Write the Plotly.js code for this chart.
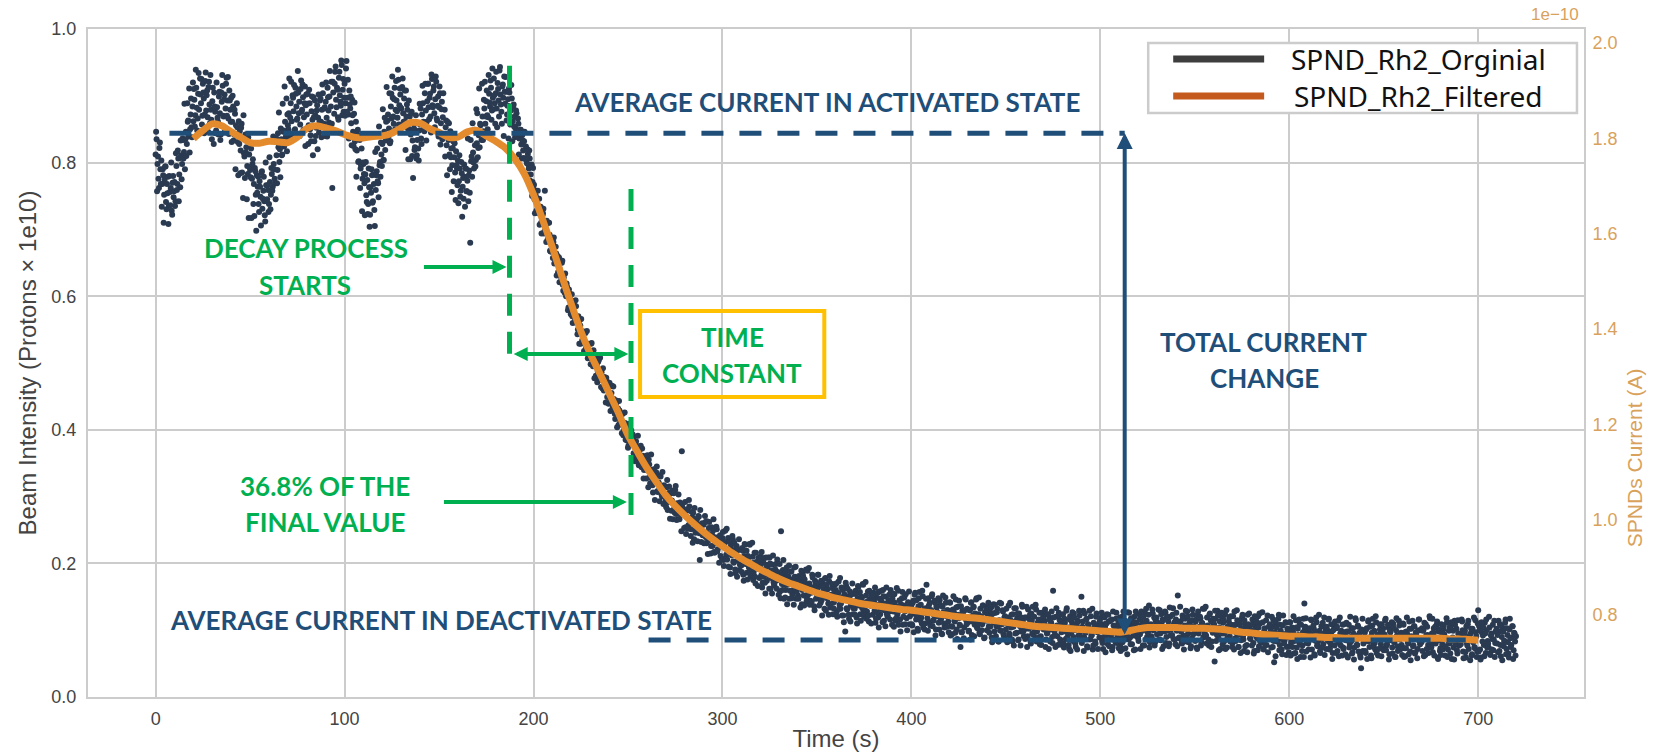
<!DOCTYPE html>
<html><head><meta charset="utf-8">
<script src="https://cdn.plot.ly/plotly-3.0.1.min.js"></script>
<style>html,body{margin:0;padding:0;background:#fff}#chart{width:1660px;height:754px}</style>
</head><body><div id="chart"></div>
<script>
// ---- data ----
// measured current, samples on the half-second grid (0, 0.5, 1.0 ... 720 s)
const sampleStart = 0;      // s
const sampleStep = 0.5;     // s
const originalCurrent = [
.812,.835,.798,.776,.822,.790,.803,.768,.781,.752,.794,.741,.768,.779,.735,.756,.762,.728,.770,.748,
.771,.742,.795,.768,.806,.782,.763,.811,.798,.834,.816,.790,.846,.828,.861,.839,.815,.872,.853,.884,
.862,.894,.871,.912,.848,.903,.879,.926,.889,.857,.918,.896,.872,.935,.901,.868,.913,.887,.931,.864,
.892,.858,.905,.876,.848,.883,.861,.899,.874,.842,.891,.915,.869,.902,.881,.927,.893,.866,.908,.879,
.897,.861,.884,.842,.873,.856,.889,.831,.862,.847,.818,.858,.836,.871,.809,.842,.823,.795,.838,.812,
.789,.821,.776,.805,.768,.792,.752,.781,.764,.738,.772,.749,.785,.731,.758,.742,.712,.766,.745,.759,
.738,.771,.752,.783,.764,.798,.776,.745,.811,.789,.823,.801,.778,.835,.812,.846,.824,.861,.839,.817,
.856,.874,.838,.889,.862,.901,.877,.848,.912,.884,.866,.905,.891,.857,.923,.879,.898,.868,.914,.886,
.872,.903,.856,.889,.841,.877,.864,.898,.832,.871,.852,.886,.867,.845,.893,.861,.879,.904,.858,.883,
.891,.867,.912,.878,.899,.856,.921,.762,.905,.873,.936,.894,.912,.868,.927,.901,.885,.946,.909,.876,
.918,.889,.952,.897,.872,.908,.881,.859,.894,.846,.873,.832,.861,.818,.849,.802,.834,.791,.821,.776,
.798,.769,.782,.751,.774,.738,.763,.722,.755,.781,.742,.768,.705,.759,.787,.772,.748,.796,.779,.812,
.828,.804,.846,.819,.861,.838,.872,.851,.829,.884,.866,.897,.858,.912,.879,.893,.867,.924,.886,.902,
.881,.913,.874,.896,.862,.908,.887,.851,.893,.869,.842,.876,.833,.858,.819,.847,.806,.834,.821,.848,
.857,.836,.872,.889,.851,.904,.878,.861,.918,.883,.897,.869,.932,.886,.908,.874,.895,.921,.863,.899,
.883,.904,.859,.891,.868,.842,.879,.853,.826,.861,.834,.812,.847,.821,.796,.832,.808,.785,.817,.791,
.803,.772,.791,.758,.784,.764,.746,.779,.791,.757,.773,.742,.788,.680,.802,.779,.815,.791,.826,.804,
.829,.808,.841,.823,.856,.834,.869,.847,.881,.858,.892,.871,.868,.903,.884,.912,.878,.897,.926,.889,
.904,.881,.919,.893,.938,.902,.876,.914,.897,.929,.888,.906,.872,.895,.911,.884,.878,.896,.862,.887,
.869,.851,.874,.842,.858,.836,.849,.827,.841,.818,.832,.806,.824,.799,.813,.791,.806,.782,.797,.771,
.761,.745,.758,.728,.738,.726,.746,.723,.710,.722,.724,.694,.758,.699,.713,.685,.689,.692,.667,.680,
.666,.681,.649,.664,.664,.650,.636,.658,.640,.629,.650,.617,.628,.605,.617,.619,.601,.583,.604,.594,
.593,.570,.581,.587,.564,.585,.561,.550,.562,.565,.529,.547,.535,.547,.533,.545,.515,.528,.529,.512,
.508,.529,.507,.495,.507,.510,.481,.497,.488,.504,.477,.482,.486,.462,.476,.479,.464,.478,.449,.460,
.470,.453,.444,.466,.434,.446,.424,.437,.441,.424,.407,.429,.420,.408,.424,.392,.409,.410,.396,.384,
.373,.391,.381,.393,.381,.393,.365,.378,.380,.364,.372,.351,.363,.371,.349,.372,.350,.340,.354,.358,
.347,.339,.355,.329,.335,.340,.317,.331,.335,.321,.336,.308,.320,.310,.332,.311,.300,.313,.317,.289,
.294,.314,.280,.302,.306,.292,.279,.309,.290,.282,.310,.274,.290,.266,.284,.291,.273,.368,.283,.275,
.278,.254,.270,.281,.257,.285,.260,.251,.269,.276,.236,.260,.250,.266,.253,.270,.205,.256,.259,.242,
.258,.242,.262,.230,.245,.234,.262,.238,.226,.243,.249,.217,.239,.231,.251,.221,.230,.237,.211,.231,
.238,.205,.229,.249,.213,.206,.238,.222,.194,.226,.212,.236,.201,.220,.185,.226,.204,.220,.190,.208,
.197,.223,.183,.211,.228,.200,.186,.211,.194,.228,.180,.200,.210,.186,.216,.170,.202,.192,.208,.178,
.210,.182,.164,.202,.190,.171,.209,.174,.195,.182,.209,.162,.189,.198,.172,.167,.191,.174,.206,.176,
.178,.158,.248,.169,.190,.147,.181,.160,.194,.168,.180,.147,.173,.188,.154,.160,.194,.173,.147,.179,
.152,.181,.164,.173,.139,.184,.152,.176,.164,.143,.189,.154,.170,.144,.156,.183,.164,.136,.174,.147,
.154,.183,.150,.166,.141,.145,.170,.160,.132,.178,.149,.161,.140,.173,.134,.153,.163,.124,.142,.168,
.160,.128,.153,.173,.138,.132,.164,.149,.122,.154,.098,.166,.131,.151,.117,.158,.137,.154,.124,.143,
.132,.159,.119,.147,.165,.138,.124,.150,.133,.168,.120,.141,.152,.128,.158,.113,.146,.137,.152,.123,
.156,.129,.111,.149,.138,.119,.158,.124,.144,.132,.160,.114,.140,.150,.125,.120,.145,.128,.160,.131,
.147,.128,.154,.114,.135,.123,.159,.130,.116,.139,.148,.108,.137,.128,.154,.118,.130,.141,.109,.135,
.137,.107,.144,.125,.156,.116,.131,.099,.148,.122,.138,.110,.151,.126,.101,.133,.168,.118,.148,.112,
.107,.130,.154,.114,.122,.141,.101,.134,.126,.111,.145,.117,.095,.135,.127,.104,.149,.121,.130,.113,
.124,.141,.106,.094,.131,.127,.113,.146,.101,.135,.118,.108,.075,.097,.129,.121,.104,.148,.115,.132,
.112,.099,.130,.141,.093,.122,.135,.108,.116,.148,.103,.124,.096,.132,.119,.109,.137,.088,.127,.114,
.100,.136,.106,.128,.121,.089,.114,.139,.098,.126,.106,.132,.083,.115,.100,.140,.109,.128,.091,.121,
.101,.118,.109,.137,.092,.115,.123,.083,.105,.133,.095,.110,.118,.085,.125,.106,.098,.138,.114,.091,
.119,.102,.135,.091,.108,.116,.084,.125,.095,.105,.120,.086,.131,.098,.112,.116,.079,.091,.126,.109,
.101,.114,.075,.124,.096,.106,.119,.083,.111,.090,.159,.101,.093,.120,.107,.078,.126,.115,.084,.097,
.110,.080,.117,.098,.129,.089,.104,.072,.121,.095,.112,.084,.125,.100,.075,.107,.114,.092,.122,.086,
.150,.105,.129,.089,.097,.116,.076,.109,.101,.086,.121,.093,.071,.111,.103,.080,.125,.097,.106,.089,
.102,.119,.084,.072,.109,.105,.091,.124,.079,.113,.096,.086,.116,.075,.107,.099,.082,.126,.093,.110,
.091,.078,.109,.120,.072,.101,.114,.087,.095,.127,.086,.107,.079,.115,.102,.092,.120,.071,.110,.097,
.088,.124,.094,.116,.109,.077,.102,.127,.086,.114,.097,.123,.074,.106,.091,.131,.100,.119,.082,.112,
.094,.111,.102,.130,.085,.108,.116,.076,.098,.126,.090,.105,.113,.080,.120,.101,.093,.133,.109,.086,
.116,.099,.152,.088,.105,.113,.081,.122,.092,.102,.117,.083,.128,.095,.109,.113,.076,.088,.123,.106,
.100,.113,.074,.123,.095,.105,.118,.082,.110,.089,.132,.100,.092,.119,.106,.077,.125,.114,.083,.096,
.110,.053,.117,.098,.129,.089,.104,.072,.121,.095,.111,.083,.124,.099,.074,.106,.113,.091,.121,.085,
.081,.104,.128,.088,.096,.115,.075,.108,.100,.085,.119,.091,.069,.109,.101,.078,.123,.095,.104,.087,
.099,.116,.081,.069,.106,.102,.088,.121,.076,.110,.092,.082,.112,.071,.103,.095,.078,.122,.089,.106,
.087,.074,.105,.116,.052,.097,.110,.083,.091,.123,.078,.099,.071,.107,.094,.084,.112,.063,.102,.089,
.076,.112,.082,.104,.097,.065,.090,.115,.074,.102,.083,.109,.060,.092,.077,.117,.140,.105,.068,.098,
.080,.097,.088,.116,.071,.094,.102,.062,.084,.112,.076,.091,.099,.066,.106,.087,.079,.119,.095,.072,
.101,.084,.117,.073,.090,.098,.066,.107,.077,.087,.103,.069,.114,.081,.095,.099,.062,.074,.109,.092,
.085,.098,.059,.108,.080,.090,.103,.067,.095,.074,.118,.086,.078,.105,.092,.063,.043,.100,.069,.082,
.096,.066,.103,.084,.115,.075,.090,.058,.107,.081,.099,.071,.112,.087,.062,.094,.101,.079,.109,.073,
.070,.093,.117,.077,.085,.104,.064,.097,.089,.074,.110,.082,.060,.100,.092,.069,.114,.086,.095,.078,
.091,.108,.073,.061,.098,.094,.080,.113,.068,.102,.086,.076,.106,.065,.097,.089,.072,.116,.083,.100,
.082,.069,.100,.111,.063,.092,.105,.078,.086,.118,.074,.095,.067,.103,.090,.080,.108,.059,.098,.085,
.073,.109,.079,.101,.094,.062,.087,.112,.071,.099,.080,.106,.057,.089,.074,.114,.083,.102,.065,.095,
.077,.094,.085,.113,.068,.091,.099,.059,.081,.109,.072,.087,.095,.062,.102,.083,.075,.115,.091,.068,
.130,.106,.071,.059,.096,.092,.078,.111,.066,.100,.084,.074,.104,.063,.095,.087,.070,.114,.081,.098,
.080,.067,.098,.109,.061,.090,.103,.076,.084,.116,.072,.093,.065,.101,.088,.078,.106,.057,.096,.083,
.091
];

// measured current, samples between the grid points (0.25, 0.75 ... 719.75 s)
const offsetStart = 0.25;   // s
const originalCurrentOffset = [
.846,.757,.809,.762,.830,.768,.734,.790,.710,.774,.794,.730,.754,.708,.780,.736,.800,.722,.780,.757,
.735,.814,.759,.818,.742,.807,.833,.775,.836,.806,.888,.835,.810,.889,.863,.911,.850,.896,.838,.920,
.910,.854,.939,.882,.866,.934,.846,.902,.925,.870,.905,.844,.922,.878,.908,.846,.921,.859,.879,.835,
.912,.828,.884,.844,.920,.867,.842,.906,.834,.905,.931,.870,.895,.848,.918,.870,.928,.843,.893,.861,
.831,.900,.833,.879,.790,.841,.853,.781,.828,.784,.852,.785,.747,.814,.777,.815,.745,.783,.717,.793,
.778,.717,.798,.738,.720,.787,.698,.755,.779,.726,.764,.706,.787,.746,.779,.721,.800,.742,.766,.726,
.808,.730,.792,.758,.839,.790,.769,.837,.769,.844,.875,.820,.851,.811,.888,.848,.914,.837,.896,.872,
.850,.926,.867,.921,.839,.897,.916,.850,.903,.864,.937,.874,.840,.910,.876,.917,.849,.889,.825,.902,
.888,.828,.909,.850,.832,.899,.811,.868,.893,.840,.878,.820,.902,.862,.896,.838,.917,.858,.881,.840,
.920,.839,.898,.860,.937,.884,.858,.921,.848,.918,.944,.883,.909,.864,.936,.891,.953,.871,.925,.897,
.870,.941,.876,.924,.836,.887,.899,.826,.871,.825,.890,.820,.779,.842,.801,.836,.762,.796,.727,.800,
.783,.721,.801,.741,.723,.791,.704,.763,.790,.740,.782,.729,.816,.781,.821,.769,.854,.801,.830,.795,
.880,.804,.867,.833,.913,.863,.839,.904,.832,.903,.929,.869,.895,.850,.922,.877,.939,.857,.911,.882,
.855,.926,.861,.908,.819,.869,.879,.805,.850,.805,.874,.810,.777,.851,.823,.871,.811,.859,.803,.888,
.881,.828,.915,.861,.847,.918,.833,.892,.918,.865,.903,.845,.925,.883,.914,.853,.929,.866,.885,.839,
.914,.827,.880,.835,.904,.843,.809,.863,.781,.842,.859,.790,.808,.756,.822,.772,.829,.744,.796,.766,
.739,.811,.749,.801,.719,.777,.797,.734,.791,.757,.836,.781,.755,.834,.809,.859,.800,.849,.794,.880,
.874,.822,.911,.858,.846,.918,.834,.894,.921,.869,.908,.850,.931,.890,.923,.864,.941,.880,.901,.858,
.936,.853,.910,.869,.943,.887,.858,.917,.840,.906,.928,.863,.885,.836,.905,.857,.916,.832,.884,.854,
.838,.878,.839,.866,.812,.842,.849,.806,.833,.807,.846,.805,.782,.820,.797,.818,.773,.794,.750,.792,
.767,.724,.750,.725,.758,.726,.707,.734,.694,.721,.731,.697,.706,.681,.709,.684,.710,.668,.688,.673,
.657,.688,.658,.674,.631,.660,.647,.621,.650,.623,.653,.608,.617,.634,.600,.614,.579,.610,.599,.573,
.603,.560,.586,.561,.594,.562,.543,.570,.529,.556,.566,.533,.542,.518,.546,.522,.548,.507,.528,.513,
.498,.530,.501,.519,.477,.507,.496,.471,.502,.477,.508,.464,.474,.492,.459,.475,.441,.473,.463,.439,
.470,.428,.455,.431,.465,.434,.416,.444,.404,.432,.443,.410,.419,.395,.424,.399,.426,.385,.405,.391,
.376,.409,.380,.399,.357,.388,.377,.353,.383,.359,.391,.347,.358,.376,.344,.361,.327,.360,.350,.327,
.362,.314,.348,.320,.363,.327,.306,.341,.295,.330,.345,.307,.321,.293,.330,.303,.337,.289,.316,.301,
.284,.325,.292,.315,.267,.305,.294,.266,.305,.276,.316,.265,.279,.303,.266,.287,.248,.289,.279,.253,
.292,.244,.279,.252,.295,.260,.241,.277,.231,.267,.283,.246,.260,.233,.271,.245,.280,.232,.260,.246,
.230,.271,.239,.263,.214,.253,.242,.215,.254,.226,.266,.216,.230,.255,.218,.239,.201,.242,.233,.207,
.247,.196,.232,.207,.252,.214,.195,.232,.184,.219,.241,.203,.231,.191,.218,.180,.221,.236,.198,.204,
.187,.219,.174,.229,.199,.219,.176,.209,.229,.186,.192,.231,.175,.201,.180,.216,.193,.166,.204,.207,
.197,.217,.171,.180,.208,.155,.198,.183,.209,.162,.200,.178,.155,.212,.169,.183,.199,.162,.187,.153,
.199,.148,.184,.160,.205,.168,.149,.187,.139,.174,.197,.159,.188,.148,.176,.138,.180,.195,.158,.164,
.147,.178,.134,.189,.160,.180,.137,.170,.191,.148,.154,.193,.138,.164,.143,.179,.157,.130,.168,.171,
.162,.183,.137,.146,.174,.122,.165,.150,.177,.129,.168,.147,.123,.181,.139,.152,.169,.133,.157,.124,
.170,.120,.156,.132,.178,.140,.122,.160,.112,.148,.171,.133,.162,.123,.150,.113,.155,.170,.133,.140,
.123,.154,.110,.166,.137,.157,.114,.148,.169,.126,.132,.172,.117,.143,.122,.159,.137,.110,.148,.152,
.143,.164,.118,.127,.156,.104,.147,.132,.159,.112,.151,.130,.106,.164,.122,.136,.153,.116,.141,.108,
.155,.105,.141,.117,.163,.126,.108,.145,.098,.134,.157,.120,.149,.109,.137,.100,.142,.158,.121,.128,
.109,.141,.097,.153,.124,.145,.102,.136,.157,.115,.119,.159,.104,.131,.110,.147,.125,.099,.137,.141,
.130,.151,.106,.115,.144,.092,.135,.121,.148,.101,.138,.117,.094,.152,.110,.124,.141,.105,.130,.097,
.142,.092,.129,.105,.151,.114,.096,.134,.087,.123,.144,.107,.136,.097,.125,.088,.130,.146,.109,.116,
.098,.130,.086,.142,.113,.134,.091,.125,.146,.104,.109,.149,.094,.121,.100,.137,.115,.089,.127,.131,
.120,.141,.096,.105,.134,.082,.125,.111,.138,.091,.127,.106,.083,.141,.099,.113,.130,.094,.119,.086,
.132,.082,.119,.095,.141,.104,.086,.124,.077,.113,.133,.096,.125,.086,.114,.077,.119,.135,.098,.105,
.087,.119,.075,.131,.102,.123,.080,.114,.135,.093,.098,.138,.083,.110,.089,.126,.104,.078,.116,.120,
.110,.131,.086,.095,.124,.072,.115,.101,.128,.081,.119,.098,.075,.133,.091,.105,.122,.086,.111,.078,
.124,.074,.111,.087,.133,.096,.078,.116,.069,.105,.127,.090,.119,.080,.108,.071,.113,.129,.092,.099,
.081,.113,.069,.125,.096,.117,.074,.108,.129,.087,.092,.132,.077,.104,.083,.120,.098,.072,.110,.114,
.105,.126,.081,.090,.119,.067,.110,.096,.123,.076,.114,.093,.070,.128,.086,.100,.117,.081,.106,.073,
.119,.069,.106,.082,.128,.091,.073,.111,.064,.100,.126,.089,.118,.079,.107,.070,.112,.128,.091,.098,
.084,.116,.072,.128,.099,.120,.077,.111,.132,.090,.097,.137,.082,.109,.088,.125,.103,.077,.115,.119,
.110,.131,.086,.095,.124,.072,.115,.101,.128,.081,.120,.099,.076,.134,.092,.106,.123,.087,.112,.079,
.126,.076,.113,.089,.135,.098,.080,.118,.071,.107,.129,.092,.121,.082,.110,.073,.115,.131,.094,.101,
.084,.116,.072,.128,.099,.120,.077,.111,.132,.090,.095,.135,.080,.107,.086,.123,.101,.075,.113,.117,
.108,.129,.084,.093,.122,.070,.113,.099,.126,.079,.116,.095,.072,.130,.088,.102,.119,.083,.108,.075,
.121,.071,.108,.084,.130,.093,.075,.113,.066,.102,.123,.086,.115,.076,.104,.067,.109,.125,.088,.095,
.077,.109,.065,.121,.092,.113,.070,.104,.125,.083,.087,.127,.072,.099,.078,.115,.093,.067,.105,.109,
.099,.120,.075,.084,.113,.061,.104,.090,.117,.070,.108,.087,.064,.122,.080,.094,.111,.075,.100,.067,
.112,.062,.099,.075,.121,.084,.066,.104,.057,.093,.116,.079,.108,.069,.097,.060,.102,.118,.081,.088,
.071,.103,.059,.115,.086,.107,.064,.098,.119,.077,.083,.123,.068,.095,.074,.111,.089,.063,.101,.105,
.095,.116,.071,.080,.109,.057,.100,.086,.113,.066,.105,.084,.061,.119,.077,.091,.108,.072,.097,.064,
.111,.061,.098,.074,.120,.083,.065,.103,.056,.092,.115,.078,.107,.068,.096,.059,.101,.117,.080,.087,
.069,.101,.057,.113,.084,.105,.062,.096,.117,.075,.081,.121,.066,.093,.072,.109,.087,.061,.099,.103,
.094,.115,.070,.079,.108,.056,.099,.085,.112,.065,.104,.083,.060,.118,.076,.090,.107,.071,.096,.063,
.110,.060,.097,.073,.119,.082,.064,.102,.055,.091,.114,.077,.106,.067,.095,.058,.100,.116,.079,.086,
.103,.099,.061,.087,.109,.072,.093,.066,.121,.081,.075,.117,.096,.062,.105,.084,.113,.057,.101,.069,
.063,.096,.071,.107,.090,.076,.118,.060,.083,.104,.065,.112,.085,.099,.056,.108,.079,.070,.115,.094,
.086,.079,.116,.100,.058,.095,.067,.106,.077,.114,.091,.055,.102,.064,.082,.119,.073,.097,.060,.110,
.068,.100,.056,.112,.083,.104,.061,.095,.116,.074,.080,.120,.065,.092,.071,.108,.086,.060,.098,.102,
.093,.114,.069,.078,.107,.055,.098,.084,.111,.064,.103,.082,.059,.117,.075,.089,.106,.070,.095,.062
];

// filtered current, every 5 s from 20 s to 700 s
const filteredStart = 20;   // s
const filteredStep = 5;     // s
const filteredCurrent = [
.836,.848,.858,.855,.846,.838,.830,.829,.832,.831,.830,.838,.851,.855,.852,.848,.842,.838,.837,.839,
.840,.844,.852,.860,.859,.851,.845,.838,.838,.846,.848,.840,.832,.822,
.806,.784,.752,.713,.673,.630,.588,.548,.514,.485,.455,.425,.392,.367,.343,.322,.302,.286,.272,.259,
.247,.236,.226,.216,.207,.199,.191,.184,.177,.171,.166,.161,.156,.152,.148,.145,.142,.139,.137,.135,
.133,.131,.130,.128,.126,.124,.122,.120,.119,.118,.116,.114,.112,.110,.108,.106,.105,.104,.103,.102,
.101,.100,.099,.098,.097,.099,.102,.104,.104,.104,.104,.103,.103,.103,.102,.101,.099,.097,.096,.094,
.093,.092,.091,.091,.090,.090,.089,.089,.088,.088,.088,.088,.088,.088,.088,.088,.088,.088,.088,.087,
.087,.086,.085
];

const seriesNames = ['SPND_Rh2_Orginial', 'SPND_Rh2_Filtered'];
const activatedLevel = 0.844;
const deactivatedLevel = 0.0853;
const decayStart = 187.3;
const timeConstantEnd = 251.6;
const xTicks = [0, 100, 200, 300, 400, 500, 600, 700];
const yTicks = [0.0, 0.2, 0.4, 0.6, 0.8, 1.0];
const y2Ticks = [0.8, 1.0, 1.2, 1.4, 1.6, 1.8, 2.0];

// ---- styles ----
const BLUE = '#1f4e79', GREEN = '#00b050', GOLD = '#ffc000', TAN = '#d9a25c';
const AXFONT = 'Liberation Sans, Arial, sans-serif';
const CALLOUT = 'Lato, Carlito, sans-serif';
const dash = '22px,16px';
const DOT = {color: '#2a3a51', size: 6};

const traces = [
  {type: 'scatter', mode: 'markers', name: seriesNames[0], legendgroup: 'orig',
   x0: sampleStart, dx: sampleStep, y: originalCurrent, marker: DOT, showlegend: false},
  {type: 'scatter', mode: 'markers', name: seriesNames[0], legendgroup: 'orig',
   x0: offsetStart, dx: sampleStep, y: originalCurrentOffset, marker: DOT, showlegend: false},
  {type: 'scatter', mode: 'lines', name: seriesNames[1],
   x0: filteredStart, dx: filteredStep, y: filteredCurrent,
   line: {color: '#e48b2d', width: 7, shape: 'spline', smoothing: 0.8}, showlegend: false},
  {type: 'scatter', mode: 'markers', x: [], y: [], yaxis: 'y2', showlegend: false, hoverinfo: 'skip'}
];

function txt(x, y, text, color) {
  return {x: x, y: y, xref: 'x', yref: 'y', text: text, showarrow: false,
    font: {family: CALLOUT, size: 26, color: color, weight: 700},
    xanchor: 'center', yanchor: 'middle'};
}
function arrow(x, y, ax, ay, color, both, size) {
  return {x: x, y: y, ax: ax, ay: ay, xref: 'x', yref: 'y', axref: 'x', ayref: 'y',
    text: '', showarrow: true, arrowhead: 2, arrowsize: size || 0.7, arrowwidth: 4,
    arrowcolor: color, arrowside: both ? 'end+start' : 'end', standoff: 0, startstandoff: 0};
}

const shapes = [
  {type: 'line', xref: 'x', yref: 'y', x0: 7.3, x1: 512.9, y0: activatedLevel, y1: activatedLevel,
   line: {color: BLUE, width: 5, dash: dash}, layer: 'above'},
  {type: 'line', xref: 'x', yref: 'y', x0: 260.9, x1: 693.4, y0: deactivatedLevel, y1: deactivatedLevel,
   line: {color: BLUE, width: 5, dash: dash}, layer: 'above'},
  {type: 'line', xref: 'x', yref: 'y', x0: decayStart, x1: decayStart, y0: 0.945, y1: 0.4925,
   line: {color: GREEN, width: 5, dash: dash}, layer: 'above'},
  {type: 'line', xref: 'x', yref: 'y', x0: timeConstantEnd, x1: timeConstantEnd, y0: 0.7605, y1: 0.265,
   line: {color: GREEN, width: 5, dash: dash}, layer: 'above'},
  {type: 'rect', xref: 'x', yref: 'y', x0: 256.4, x1: 353.9, y0: 0.4491, y1: 0.5778,
   line: {color: GOLD, width: 4}, fillcolor: 'rgba(0,0,0,0)', layer: 'above'},
  // legend box
  {type: 'rect', xref: 'paper', yref: 'paper', x0: 0.7087, x1: 0.9953, y0: 0.8743, y1: 0.979,
   line: {color: '#cccccc', width: 2.5}, fillcolor: '#ffffff', layer: 'above'},
  {type: 'line', xref: 'paper', yref: 'paper', x0: 0.7254, x1: 0.7862, y0: 0.9551, y1: 0.9551,
   line: {color: '#3d3d3d', width: 7}, layer: 'above'},
  {type: 'line', xref: 'paper', yref: 'paper', x0: 0.7254, x1: 0.7862, y0: 0.8997, y1: 0.8997,
   line: {color: '#c55a1e', width: 7}, layer: 'above'}
];

const annotations = [
  txt(355.1, 0.8907, 'AVERAGE CURRENT IN ACTIVATED STATE', BLUE),
  txt(150.8, 0.1153, 'AVERAGE CURRENT IN DEACTIVATED STATE', BLUE),
  txt(79.8, 0.6722, 'DECAY PROCESS', GREEN),
  txt(79.2, 0.6168, 'STARTS', GREEN),
  txt(89.4, 0.3159, '36.8% OF THE', GREEN),
  txt(89.4, 0.2624, 'FINAL VALUE', GREEN),
  txt(305.1, 0.5394, 'TIME', GREEN),
  txt(305.1, 0.4850, 'CONSTANT', GREEN),
  txt(586.4, 0.5314, 'TOTAL CURRENT', BLUE),
  txt(587.0, 0.4775, 'CHANGE', BLUE),
  arrow(185.7, 0.6437, 141.2, 0.6437, GREEN, false),
  arrow(249.4, 0.2919, 151.8, 0.2919, GREEN, false),
  arrow(250.2, 0.5135, 188.7, 0.5135, GREEN, true),
  arrow(512.9, 0.8443, 512.9, 0.0913, BLUE, true, 0.8),
  // legend labels
  {xref: 'paper', yref: 'paper', x: 0.8029, y: 0.9551, xanchor: 'left', yanchor: 'middle',
   text: seriesNames[0], showarrow: false, font: {family: 'Noto Sans, sans-serif', size: 28, color: '#111'}},
  {xref: 'paper', yref: 'paper', x: 0.8049, y: 0.8997, xanchor: 'left', yanchor: 'middle',
   text: seriesNames[1], showarrow: false, font: {family: 'Noto Sans, sans-serif', size: 28, color: '#111'}},
  // right axis offset label and title
  {xref: 'paper', yref: 'paper', x: 0.998, y: 1.021, xanchor: 'right', yanchor: 'middle',
   text: '1e\u221210', showarrow: false, font: {family: AXFONT, size: 17, color: TAN}},
  {xref: 'paper', yref: 'paper', x: 1.0334, y: 0.359, xanchor: 'center', yanchor: 'middle',
   textangle: -90, text: 'SPNDs Current (A)', showarrow: false, font: {family: AXFONT, size: 21, color: TAN}}
];

const layout = {
  width: 1660, height: 754,
  margin: {l: 88, r: 76, t: 29, b: 57},
  paper_bgcolor: '#ffffff', plot_bgcolor: '#ffffff',
  showlegend: false,
  font: {family: AXFONT, color: '#444'},
  xaxis: {range: [-35.8, 756], tickvals: xTicks, showgrid: true, gridcolor: '#cccccc', gridwidth: 2,
    zeroline: false, showline: true, mirror: true, linecolor: '#cccccc', linewidth: 2,
    ticks: 'outside', ticklen: 4, tickcolor: 'rgba(0,0,0,0)',
    tickfont: {size: 18, color: '#444'},
    title: {text: 'Time (s)', font: {size: 24, color: '#444'}, standoff: 3}},
  yaxis: {range: [0, 1], tickvals: yTicks, tickformat: '.1f', showgrid: true, gridcolor: '#cccccc', gridwidth: 2,
    zeroline: false, showline: true, mirror: true, linecolor: '#cccccc', linewidth: 2,
    ticks: 'outside', ticklen: 6, tickcolor: 'rgba(0,0,0,0)',
    tickfont: {size: 18, color: '#444'},
    title: {text: 'Beam Intensity (Protons × 1e10)', font: {size: 24, color: '#444'}, standoff: 8}},
  yaxis2: {overlaying: 'y', side: 'right', range: [0.628, 2.029], tickvals: y2Ticks, tickformat: '.1f',
    showgrid: false, zeroline: false, showline: false,
    ticks: 'outside', ticklen: 4, tickcolor: 'rgba(0,0,0,0)',
    tickfont: {size: 18, color: TAN}},
  shapes: shapes,
  annotations: annotations
};

Plotly.newPlot('chart', traces, layout, {displayModeBar: false, staticPlot: true});
</script>
</body></html>
